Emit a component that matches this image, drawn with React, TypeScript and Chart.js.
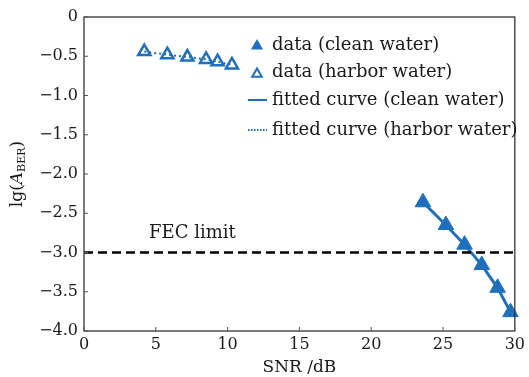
import React, { useEffect, useRef } from "react";
import { Chart, registerables } from "chart.js";
Chart.register(...registerables);

// ---- data ----
const cleanSNR = [23.6, 25.2, 26.5, 27.7, 28.8, 29.7];
const cleanBER = [-2.36, -2.65, -2.9, -3.16, -3.45, -3.76];
const harborSNR = [4.2, 5.8, 7.2, 8.5, 9.3, 10.3];
const harborBER = [-0.44, -0.48, -0.51, -0.54, -0.57, -0.61];
const fitCleanSNR = [23.6, 25.2, 26.5, 27.7, 28.8, 29.7];
const fitCleanBER = [-2.36, -2.65, -2.9, -3.16, -3.45, -3.76];
const fitHarborSNR = [4.2, 5.8, 7.2, 8.5, 9.3, 10.3];
const fitHarborBER = [-0.44, -0.48, -0.51, -0.54, -0.57, -0.61];
const fecSNR = [0, 30];
const fecBER = [-3, -3];
const fecLabel = "FEC limit";
const fecLabelPos = [7.55, -2.75];
const xTicks = [0, 5, 10, 15, 20, 25, 30];
const yTicks = [0, -0.5, -1, -1.5, -2, -2.5, -3, -3.5, -4];
const legendLabels = [
  "data (clean water)",
  "data (harbor water)",
  "fitted curve (clean water)",
  "fitted curve (harbor water)",
];
const xTitle = "SNR /dB";

const BLUE = "#1e6fbe";
const INK = "#1a1a1a";
const FONT = "DejaVu Serif";

const zip = (xs: number[], ys: number[]) => xs.map((x, i) => ({ x, y: ys[i] }));

const fmtY = (v: number) => (v === 0 ? "0" : "\u2212" + Math.abs(v).toFixed(1));

const decorPlugin = {
  id: "decor",
  afterDraw(chart: any) {
    const { ctx, chartArea: a, scales } = chart;
    const xs = scales.x;
    const ys = scales.y;
    ctx.save();
    // frame
    ctx.strokeStyle = "#222";
    ctx.lineWidth = 1.2;
    ctx.strokeRect(a.left, a.top, a.right - a.left, a.bottom - a.top);
    // inside ticks
    ctx.lineWidth = 1;
    ctx.strokeStyle = "#555";
    xTicks.forEach((t) => {
      const px = xs.getPixelForValue(t);
      ctx.beginPath();
      ctx.moveTo(px, a.bottom);
      ctx.lineTo(px, a.bottom - 4);
      ctx.stroke();
    });
    yTicks.forEach((t) => {
      const py = ys.getPixelForValue(t);
      ctx.beginPath();
      ctx.moveTo(a.left, py);
      ctx.lineTo(a.left + 4, py);
      ctx.stroke();
    });

    // FEC label
    ctx.fillStyle = INK;
    ctx.font = `18px "${FONT}"`;
    ctx.textAlign = "center";
    ctx.textBaseline = "middle";
    ctx.fillText(fecLabel, xs.getPixelForValue(fecLabelPos[0]), ys.getPixelForValue(fecLabelPos[1]));

    // x title
    ctx.font = `17px "${FONT}"`;
    ctx.fillText(xTitle, (a.left + a.right) / 2, 368);

    // y title lg(A_BER)
    ctx.save();
    ctx.translate(18, (a.top + a.bottom) / 2);
    ctx.rotate(-Math.PI / 2);
    const f1 = `17px "${FONT}"`;
    const fi = `italic 17px "${FONT}"`;
    const fs = `11px "${FONT}"`;
    const parts: [string, string, number][] = [
      ["lg(", f1, 0],
      ["A", fi, 0],
      ["BER", fs, 4.5],
      [")", f1, 0],
    ];
    let total = 0;
    parts.forEach(([t, f]) => {
      ctx.font = f;
      total += ctx.measureText(t).width;
    });
    let cx = -total / 2;
    ctx.textAlign = "left";
    ctx.textBaseline = "middle";
    parts.forEach(([t, f, dy]) => {
      ctx.font = f;
      ctx.fillText(t, cx, dy);
      cx += ctx.measureText(t).width;
    });
    ctx.restore();

    // legend
    const lx = a.left + 173;
    const tx = a.left + 188;
    const rows = [a.top + 28, a.top + 55, a.top + 83, a.top + 113];
    ctx.font = `18px "${FONT}"`;
    ctx.textAlign = "left";
    ctx.textBaseline = "middle";
    ctx.fillStyle = INK;
    legendLabels.forEach((l, i) => ctx.fillText(l, tx, rows[i]));
    const tri = (x: number, y: number, r: number) => {
      ctx.beginPath();
      ctx.moveTo(x, y - r);
      ctx.lineTo(x + r * 0.866, y + r * 0.5);
      ctx.lineTo(x - r * 0.866, y + r * 0.5);
      ctx.closePath();
    };
    ctx.fillStyle = BLUE;
    tri(lx, rows[0] + 1, 7);
    ctx.fill();
    ctx.strokeStyle = BLUE;
    ctx.lineWidth = 2;
    ctx.fillStyle = "#fff";
    tri(lx, rows[1] + 2, 5.5);
    ctx.fill();
    ctx.stroke();
    ctx.beginPath();
    ctx.moveTo(lx - 9, rows[2]);
    ctx.lineTo(lx + 10, rows[2]);
    ctx.stroke();
    ctx.setLineDash([1.5, 1.5]);
    ctx.beginPath();
    ctx.moveTo(lx - 9, rows[3]);
    ctx.lineTo(lx + 10, rows[3]);
    ctx.stroke();
    ctx.restore();
  },
};

export default function App() {
  const ref = useRef<HTMLCanvasElement | null>(null);
  useEffect(() => {
    if (!ref.current) return;
    const chart = new Chart(ref.current, {
      type: "scatter",
      data: {
        datasets: [
          {
            label: "FEC",
            data: zip(fecSNR, fecBER),
            showLine: true,
            borderColor: "#000",
            borderWidth: 2.5,
            borderDash: [9, 5],
            pointRadius: 0,
          },
          {
            label: legendLabels[3],
            data: zip(fitHarborSNR, fitHarborBER),
            showLine: true,
            borderColor: BLUE,
            borderWidth: 2,
            borderDash: [2, 3],
            pointRadius: 0,
          },
          {
            label: legendLabels[2],
            data: zip(fitCleanSNR, fitCleanBER),
            showLine: true,
            borderColor: BLUE,
            borderWidth: 3,
            pointRadius: 0,
          },
          {
            label: legendLabels[1],
            data: zip(harborSNR, harborBER),
            showLine: false,
            pointStyle: "triangle",
            pointRadius: 7,
            pointBorderWidth: 2.5,
            pointBorderColor: BLUE,
            pointBackgroundColor: "#fff",
            clip: false,
          } as any,
          {
            label: legendLabels[0],
            data: zip(cleanSNR, cleanBER),
            showLine: false,
            pointStyle: "triangle",
            pointRadius: 9,
            pointBorderWidth: 1,
            pointBorderColor: BLUE,
            pointBackgroundColor: BLUE,
            clip: false,
          } as any,
        ],
      },
      options: {
        animation: false,
        responsive: false,
        devicePixelRatio: 1,
        layout: { padding: { top: 17, right: 12, left: 0, bottom: 0 } },
        plugins: { legend: { display: false }, tooltip: { enabled: false } },
        scales: {
          x: {
            type: "linear",
            min: 0,
            max: 30,
            grid: { display: false, drawTicks: false },
            border: { display: false },
            afterBuildTicks: (s: any) => {
              s.ticks = xTicks.map((v) => ({ value: v }));
            },
            afterFit: (s: any) => {
              s.height = 46;
            },
            ticks: {
              padding: 4,
              color: INK,
              font: { family: FONT, size: 16 },
              maxRotation: 0,
              autoSkip: false,
            },
          },
          y: {
            type: "linear",
            min: -4,
            max: 0,
            grid: { display: false, drawTicks: false },
            border: { display: false },
            afterBuildTicks: (s: any) => {
              s.ticks = yTicks.map((v) => ({ value: v }));
            },
            afterFit: (s: any) => {
              s.width = 84;
            },
            ticks: {
              padding: 6,
              color: INK,
              font: { family: FONT, size: 16 },
              autoSkip: false,
              callback: (v: any) => fmtY(Number(v)),
            },
          },
        },
      } as any,
      plugins: [decorPlugin],
    });
    return () => chart.destroy();
  }, []);
  return (
    <div style={{ position: "fixed", left: 0, top: 0, width: 529, height: 377, background: "#fff" }}>
      <canvas ref={ref} width={529} height={377} />
    </div>
  );
}
